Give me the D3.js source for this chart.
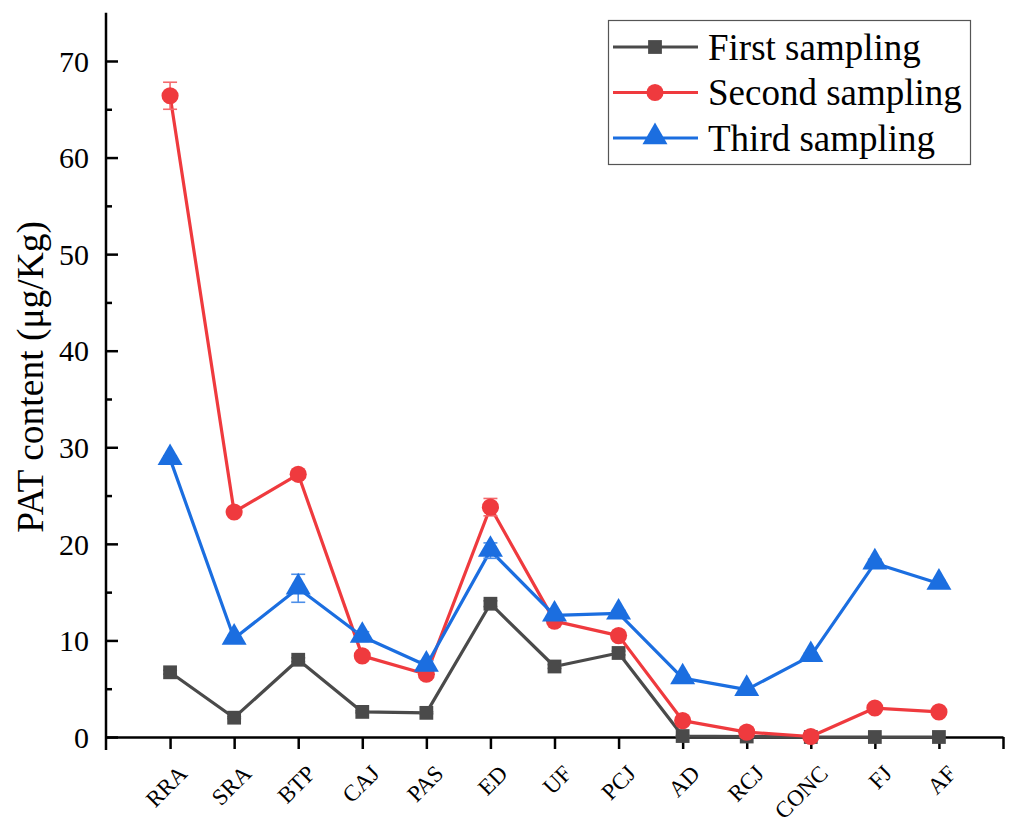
<!DOCTYPE html>
<html><head><meta charset="utf-8">
<script src="https://cdn.jsdelivr.net/npm/d3@7"></script>
<style>
body{margin:0;background:#fff;}
text{font-family:"Liberation Serif","Times New Roman",serif;fill:#000;}
</style></head>
<body><svg id="c" width="1009" height="825"></svg>
<script>
const categories = ["RRA","SRA","BTP","CAJ","PAS","ED","UF","PCJ","AD","RCJ","CONC","FJ","AF"];
const firstVals  = [6.7, 2.0, 8.0, 2.6, 2.5, 13.8, 7.3, 8.7, 0.1, 0.05, 0.0, 0.0, 0.0];
const secondVals = [66.4, 23.3, 27.2, 8.4, 6.5, 23.8, 12.0, 10.5, 1.7, 0.5, 0.05, 3.0, 2.6];
const thirdVals  = [28.8, 10.2, 15.4, 10.4, 7.4, 19.3, 12.6, 12.8, 6.1, 4.9, 8.4, 18.0, 15.9];
const firstErr   = [0.2, 0.1, 0.2, 0.1, 0.1, 0.3, 0.2, 0.2, 0.05, 0.05, 0, 0, 0];
const secondErr  = [1.4, 0.3, 0.4, 0.3, 0.2, 0.9, 0.3, 0.3, 0.2, 0.5, 0.05, 0.3, 0.2];
const thirdErr   = [0.3, 0.3, 1.45, 0.5, 0.5, 0.8, 0.3, 0.3, 0.3, 0.2, 0.3, 0.4, 0.3];
const seriesNames = ["First sampling","Second sampling","Third sampling"];
const yTicks = [0,10,20,30,40,50,60,70];
const yMinorTicks = [5,15,25,35,45,55,65];

const colors = ["#4a4a4a","#ef3a3e","#1b6ee0"];
const errColors = ["#7a7a7a","#f46a6d","#4d8fe8"];
const shapes = [d3.symbolSquare, d3.symbolCircle, d3.symbolTriangle];
const sizes = [190, 230, 270];

const svg = d3.select("#c");
const x = d3.scaleLinear().domain([-1,13]).range([106,1003]);
const y = d3.scaleLinear().domain([0,75]).range([737,12.7]);

// Y axis
const yAx = svg.append("g").attr("transform","translate(106,0)")
  .call(d3.axisLeft(y).tickValues(yTicks).tickSizeInner(-12).tickSizeOuter(0).tickPadding(17).tickFormat(d3.format("d")));
yAx.select(".domain").remove();
yAx.selectAll(".tick line").attr("stroke","#000").attr("stroke-width",2.5);
yAx.selectAll(".tick text").style("font-size","30px").attr("dy","0.34em");
const yMin = svg.append("g").attr("transform","translate(106,0)")
  .call(d3.axisLeft(y).tickValues(yMinorTicks).tickSizeInner(-6).tickSizeOuter(0).tickFormat(""));
yMin.select(".domain").remove();
yMin.selectAll(".tick line").attr("stroke","#000").attr("stroke-width",2.5);
svg.append("line").attr("x1",106).attr("x2",106).attr("y1",y(75)).attr("y2",750)
  .attr("stroke","#000").attr("stroke-width",2.5);

// X axis
const xAx = svg.append("g").attr("transform","translate(0,737)")
  .call(d3.axisBottom(x).tickValues(d3.range(categories.length).concat([13])).tickSizeInner(12).tickSizeOuter(0).tickFormat(""));
xAx.select(".domain").attr("stroke","#000").attr("stroke-width",2.5);
xAx.selectAll(".tick line").attr("stroke","#000").attr("stroke-width",2.5);
svg.append("g").selectAll("text").data(categories).join("text")
  .attr("text-anchor","end")
  .attr("transform",(d,i)=>`translate(${x(i)+18.5},775) rotate(-45)`)
  .style("font-size","23px")
  .text(d=>d);

// Y title
svg.append("text").attr("text-anchor","middle")
  .attr("transform",`translate(43,${(y(75)+737)/2 + 2}) rotate(-90)`)
  .style("font-size","37.5px").text("PAT content (μg/Kg)");

// Series
const allVals = [firstVals, secondVals, thirdVals];
const allErr = [firstErr, secondErr, thirdErr];
const line = d3.line().x((d,i)=>x(i)).y(d=>y(d));
allVals.forEach((vals,s)=>{
  const g = svg.append("g");
  g.append("path").datum(vals).attr("d",line).attr("fill","none")
    .attr("stroke",colors[s]).attr("stroke-width",3.2).attr("stroke-linejoin","round");
  const eg = g.append("g").attr("stroke",errColors[s]).attr("stroke-width",1.6);
  vals.forEach((v,i)=>{
    const e = allErr[s][i];
    if(e<=0) return;
    eg.append("line").attr("x1",x(i)).attr("x2",x(i)).attr("y1",y(v+e)).attr("y2",y(Math.max(v-e,0)));
    eg.append("line").attr("x1",x(i)-7).attr("x2",x(i)+7).attr("y1",y(v+e)).attr("y2",y(v+e));
    eg.append("line").attr("x1",x(i)-7).attr("x2",x(i)+7).attr("y1",y(Math.max(v-e,0))).attr("y2",y(Math.max(v-e,0)));
  });
  g.selectAll("path.m").data(vals).join("path").attr("class","m")
    .attr("d",d3.symbol().type(shapes[s]).size(sizes[s]))
    .attr("transform",(d,i)=>`translate(${x(i)},${y(d)+(s===2?-1:0)})`)
    .attr("fill",colors[s]);
});

// Legend
const lg = svg.append("g");
lg.append("rect").attr("x",608.5).attr("y",20.5).attr("width",362).attr("height",144)
  .attr("fill","#fff").attr("stroke","#555").attr("stroke-width",1.2);
seriesNames.forEach((n,s)=>{
  const yy = 47 + s*45.5;
  lg.append("line").attr("x1",613).attr("x2",698).attr("y1",yy).attr("y2",yy)
    .attr("stroke",colors[s]).attr("stroke-width",3.2);
  lg.append("path").attr("d",d3.symbol().type(shapes[s]).size(sizes[s]))
    .attr("transform",`translate(655,${yy+(s===2?-1:0)})`).attr("fill",colors[s]);
  lg.append("text").attr("x",708).attr("y",yy).attr("dy","0.35em")
    .style("font-size","37px").text(n);
});
</script></body></html>
